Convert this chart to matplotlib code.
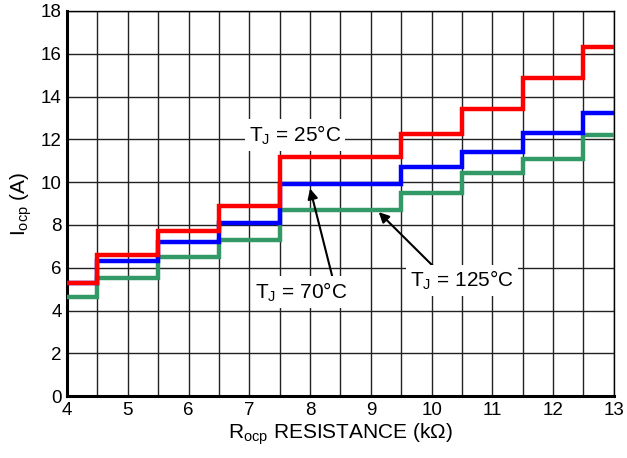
import numpy as np
import matplotlib
matplotlib.use("Agg")
import matplotlib.pyplot as plt

plt.rcParams['font.family'] = ['Liberation Sans', 'DejaVu Sans']
plt.rcParams['mathtext.default'] = 'regular'

# step edges (kOhm) and current levels (A)
r_edges = [4, 4.5, 5.5, 6.5, 7.5, 9.5, 10.5, 11.5, 12.5, 13]
iocp_25c = [5.3, 6.6, 7.7, 8.9, 11.2, 12.25, 13.4, 14.85, 16.3]
iocp_70c = [5.3, 6.3, 7.2, 8.1, 9.9, 10.7, 11.4, 12.3, 13.25]
iocp_125c = [4.65, 5.5, 6.5, 7.3, 8.7, 9.5, 10.45, 11.1, 12.2]

x_ticks = [4, 5, 6, 7, 8, 9, 10, 11, 12, 13]
y_ticks = [0, 2, 4, 6, 8, 10, 12, 14, 16, 18]

fig = plt.figure(figsize=(6.27, 4.58), dpi=100)
ax = fig.add_axes([0.107, 0.135, 0.872, 0.841])

# grid: every 0.5 in x, every 2 in y
ax.set_xticks(np.arange(4, 13.01, 0.5), minor=True)
ax.set_xticks(x_ticks)
ax.set_yticks(y_ticks)
ax.grid(True, which='both', color='#222222', linewidth=1.0, zorder=0)
ax.tick_params(which='both', length=0, labelsize=13.5, pad=4)

ax.stairs(iocp_125c, r_edges, baseline=None, color='#339966', linewidth=3.2, zorder=3)
ax.stairs(iocp_70c, r_edges, baseline=None, color='#0000ff', linewidth=3.2, zorder=4)
ax.stairs(iocp_25c, r_edges, baseline=None, color='#ff0000', linewidth=3.2, zorder=5)

ax.set_xlim(4, 13)
ax.set_ylim(0, 18)

for side in ['left', 'bottom']:
    ax.spines[side].set_linewidth(2.2)
for side in ['top', 'right']:
    ax.spines[side].set_linewidth(1.0)

box = dict(facecolor='white', edgecolor='none', pad=3)
ax.text(7.75, 12.2, r'T$_J$ = 25°C', fontsize=15, ha='center', va='center',
        bbox=box, zorder=4.5)
ax.annotate(r'T$_J$ = 70°C', xy=(8.0, 9.7), xytext=(7.85, 4.86), fontsize=15,
            ha='center', va='center', bbox=box, zorder=6,
            arrowprops=dict(arrowstyle='-|>', color='black', lw=1.5,
                            mutation_scale=15, shrinkA=0, shrinkB=0,
                            patchA=None, relpos=(0.85, 1.0)))
ax.annotate(r'T$_J$ = 125°C', xy=(9.13, 8.6), xytext=(10.5, 5.4), fontsize=15,
            ha='center', va='center', bbox=box, zorder=6,
            arrowprops=dict(arrowstyle='-|>', color='black', lw=1.5,
                            mutation_scale=15, shrinkA=0, shrinkB=0,
                            patchA=None, relpos=(0.25, 1.0)))

ax.set_xlabel(r'R$_{ocp}$ RESISTANCE (k$\Omega$)', fontsize=15, labelpad=2)
ax.set_ylabel(r'I$_{ocp}$ (A)', fontsize=15, labelpad=5)

fig.savefig('out.png', dpi=100)
